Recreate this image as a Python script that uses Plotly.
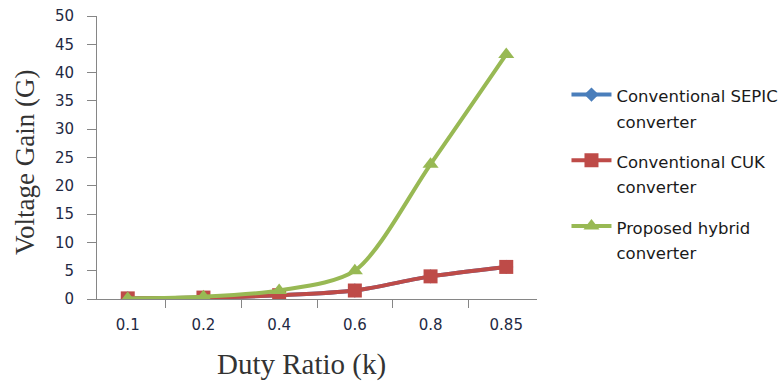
import plotly.graph_objects as go

duty = ["0.1", "0.2", "0.4", "0.6", "0.8", "0.85"]
sepic = [0.11, 0.25, 0.67, 1.5, 4.0, 5.67]
cuk = [0.11, 0.25, 0.67, 1.5, 4.0, 5.67]
hybrid = [0.1, 0.4, 1.5, 5.0, 23.8, 43.2]

names = ["Conventional SEPIC<br>converter", "Conventional CUK<br>converter", "Proposed hybrid<br>converter"]
series = [sepic, cuk, hybrid]
colors = ["#4a7ebb", "#be4b48", "#98b954"]
symbols = ["diamond", "square", "triangle-up"]
msizes = [11, 14, 14]

fig = go.Figure()
for i, (nm, ys) in enumerate(zip(names, series)):
    label = "<br>".join(f'<span style="font-size:16.5px">{p}</span>' for p in nm.split("<br>"))
    fig.add_trace(go.Scatter(
        x=duty, y=ys, name=label, mode="lines+markers",
        line=dict(color=colors[i], width=4, shape="spline", smoothing=0.8),
        marker=dict(symbol=symbols[i], size=msizes[i], color=colors[i]),
        legendgroup=f"g{i}",
    ))

fig.update_layout(
    width=781, height=383,
    margin=dict(l=97, r=244, t=16, b=84, autoexpand=False),
    paper_bgcolor="white", plot_bgcolor="white",
    font=dict(family="DejaVu Sans", size=15, color="#1f2a44"),
    showlegend=True,
    legend=dict(x=1.067, y=0.79, xanchor="left", yanchor="top", valign="top",
                font=dict(family="DejaVu Sans", size=19.5, color="#1a1a1a"),
                tracegroupgap=12, itemwidth=40, bgcolor="rgba(0,0,0,0)"),
    annotations=[
        dict(text="Duty Ratio (k)", x=301, y=365, xref="paper", yref="paper",
             xanchor="center", yanchor="middle",
             showarrow=False, font=dict(family="Liberation Serif", size=29, color="#333333")),
        dict(text="Voltage Gain (G)", x=25, y=163, xref="paper", yref="paper",
             xanchor="center", yanchor="middle",
             showarrow=False, textangle=-90,
             font=dict(family="Liberation Serif", size=27, color="#333333")),
    ],
)
# convert annotation pixel positions to paper coordinates
pw, ph = 781 - 97 - 244, 383 - 16 - 84
for a in fig.layout.annotations:
    a.x = (a.x - 97) / pw
    a.y = (383 - 84 - a.y) / ph

fig.update_xaxes(
    type="category", showline=True, linecolor="#868686", linewidth=1,
    ticks="outside", tickson="boundaries", ticklen=8, tickcolor="#868686",
    showgrid=False, zeroline=False, ticklabelstandoff=12,
    tickfont=dict(family="DejaVu Sans", size=15, color="#1f2a44"),
)
fig.update_yaxes(
    range=[0, 50], dtick=5, showline=True, linecolor="#868686", linewidth=1,
    ticks="outside", ticklen=9, tickcolor="#868686",
    showgrid=False, zeroline=False, ticklabelstandoff=10,
    tickfont=dict(family="DejaVu Sans", size=15, color="#1f2a44"),
)

fig.write_html("out.html")
